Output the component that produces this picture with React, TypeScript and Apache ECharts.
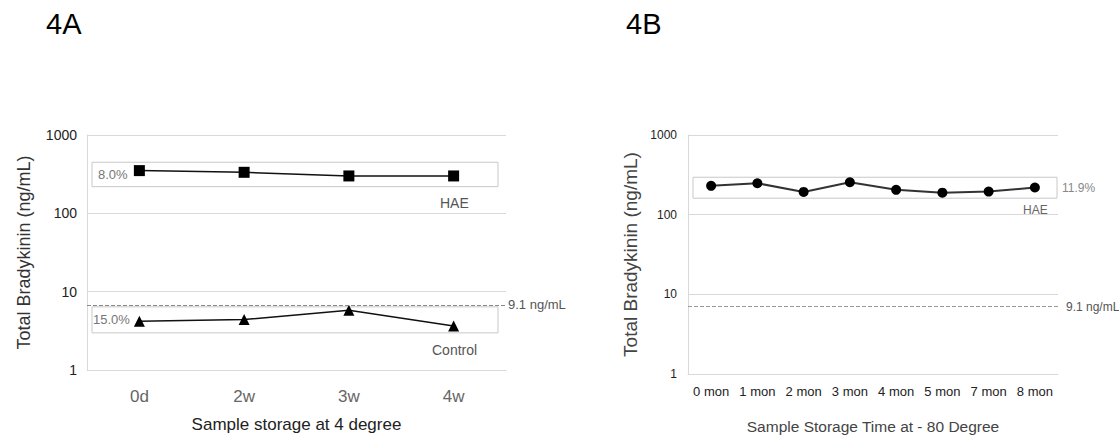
import React, { useEffect, useRef } from "react";
import * as echarts from "echarts";

// ---- data ----
const catsA = ["0d", "2w", "3w", "4w"];
const haeA = [351, 334, 300, 300];
const controlA = [4.2, 4.4, 5.8, 3.65];
const catsB = ["0 mon", "1 mon", "2 mon", "3 mon", "4 mon", "5 mon", "7 mon", "8 mon"];
const haeB = [230, 248, 193, 255, 205, 189, 195, 219];
const yTicks = [1, 10, 100, 1000];
const cutoffA = 6.8;
const cutoffB = 7.0;
const cutoffLabel = "9.1 ng/mL";
// CV boxes: [low, high] in ng/mL
const boxHaeA = [219, 449];
const boxCtrlA = [2.98, 6.4];
const boxHaeB = [161, 295];
const cvHaeA = "8.0%";
const cvCtrlA = "15.0%";
const cvHaeB = "11.9%";

const FONT = "Liberation Sans, Arial, sans-serif";

export default function App() {
  const ref = useRef<HTMLDivElement>(null);
  useEffect(() => {
    if (!ref.current) return;
    const chart = echarts.init(ref.current, null, { renderer: "svg" });
    const yAxisBase = (idx: number, fs: number, margin: number, nameSize: number, gap: number, nameColor: string) => ({
      type: "log",
      logBase: 10,
      min: yTicks[0],
      max: yTicks[yTicks.length - 1],
      gridIndex: idx,
      name: "Total Bradykinin (ng/mL)",
      nameLocation: "middle",
      nameGap: gap,
      nameTextStyle: { fontSize: nameSize, color: nameColor, fontFamily: FONT },
      axisLine: { show: true, lineStyle: { color: "#d9d9d9", width: 1 } },
      axisTick: { show: false },
      axisLabel: {
        fontSize: fs,
        color: "#222",
        margin,
        fontFamily: FONT,
        formatter: (v: number) => String(Math.round(v)),
      },
      splitLine: { show: true, lineStyle: { color: "#d9d9d9", width: 1 } },
    });
    const option: any = {
      animation: false,
      textStyle: { fontFamily: FONT },
      grid: [
        { left: 87, top: 135, width: 419, height: 235 },
        { left: 688, top: 135, width: 370, height: 239 },
      ],
      xAxis: [
        {
          type: "category",
          data: catsA,
          gridIndex: 0,
          boundaryGap: true,
          name: "Sample storage at 4 degree",
          nameLocation: "middle",
          nameGap: 46,
          nameTextStyle: { fontSize: 17, color: "#222", fontFamily: FONT },
          axisLine: { show: true, lineStyle: { color: "#d9d9d9" } },
          axisTick: { show: false },
          axisLabel: { fontSize: 17, color: "#666", margin: 18, fontFamily: FONT },
        },
        {
          type: "category",
          data: catsB,
          gridIndex: 1,
          boundaryGap: true,
          name: "Sample Storage Time at - 80 Degree",
          nameLocation: "middle",
          nameGap: 44,
          nameTextStyle: { fontSize: 15.5, color: "#444", fontFamily: FONT },
          axisLine: { show: true, lineStyle: { color: "#d9d9d9" } },
          axisTick: { show: false },
          axisLabel: { fontSize: 13, color: "#222", margin: 11, fontFamily: FONT, interval: 0 },
        },
      ],
      yAxis: [yAxisBase(0, 14, 10, 18, 54, "#333"), yAxisBase(1, 12, 11, 19, 48, "#444")],
      series: [
        {
          type: "line",
          name: "HAE A",
          xAxisIndex: 0,
          yAxisIndex: 0,
          data: haeA,
          symbol: "rect",
          symbolSize: 11,
          lineStyle: { color: "#111", width: 1.5 },
          itemStyle: { color: "#000" },
          markLine: {
            silent: true,
            symbol: "none",
            lineStyle: { type: "dashed", color: "#888", width: 1 },
            label: { position: "end", formatter: cutoffLabel, color: "#555", fontSize: 13, distance: 2, fontFamily: FONT },
            data: [{ yAxis: cutoffA }],
          },
        },
        {
          type: "line",
          name: "Control A",
          xAxisIndex: 0,
          yAxisIndex: 0,
          data: controlA,
          symbol: "triangle",
          symbolSize: 11,
          lineStyle: { color: "#111", width: 1.5 },
          itemStyle: { color: "#000" },
        },
        {
          type: "line",
          name: "HAE B",
          xAxisIndex: 1,
          yAxisIndex: 1,
          data: haeB,
          symbol: "circle",
          symbolSize: 10,
          lineStyle: { color: "#333", width: 2 },
          itemStyle: { color: "#000" },
          markLine: {
            silent: true,
            symbol: "none",
            lineStyle: { type: "dashed", color: "#999", width: 1 },
            label: { position: "end", formatter: cutoffLabel, color: "#555", fontSize: 12, distance: 8, fontFamily: FONT },
            data: [{ yAxis: cutoffB }],
          },
        },
      ],
    };
    chart.setOption(option);

    const py = (idx: number, v: number) => chart.convertToPixel({ yAxisIndex: idx } as any, v) as number;
    const box = (idx: number, range: number[], x0: number, x1: number) => {
      const yTop = py(idx, range[1]);
      const yBot = py(idx, range[0]);
      return {
        rect: {
          type: "rect",
          shape: { x: x0, y: yTop, width: x1 - x0, height: yBot - yTop },
          style: { fill: "none", stroke: "#c8c8c8", lineWidth: 1 },
          silent: true,
        },
        mid: (yTop + yBot) / 2,
        bot: yBot,
      };
    };
    const bA1 = box(0, boxHaeA, 92, 498);
    const bA2 = box(0, boxCtrlA, 92, 498);
    const bB = box(1, boxHaeB, 693, 1057);
    const txt = (text: string, x: number, y: number, size: number, color: string, align = "left") => ({
      type: "text",
      x,
      y,
      silent: true,
      style: { text, fontSize: size, fill: color, fontFamily: FONT, textAlign: align, textVerticalAlign: "middle" },
    });
    chart.setOption({
      graphic: [
        bA1.rect,
        bA2.rect,
        bB.rect,
        txt("4A", 46, 24, 29, "#000"),
        txt("4B", 626, 24, 29, "#000"),
        txt(cvHaeA, 98, bA1.mid, 13, "#777"),
        txt(cvCtrlA, 93, bA2.mid, 13, "#777"),
        txt("HAE", 440, bA1.bot + 16, 14, "#555"),
        txt("Control", 432, bA2.bot + 17, 14, "#555"),
        txt(cvHaeB, 1062, bB.mid, 12, "#888"),
        txt("HAE", 1023, bB.bot + 12, 12, "#666"),
      ],
    });
    return () => chart.dispose();
  }, []);
  return (
    <div
      ref={ref}
      style={{ position: "absolute", left: 0, top: 0, width: 1119, height: 440, background: "#fff" }}
    />
  );
}
